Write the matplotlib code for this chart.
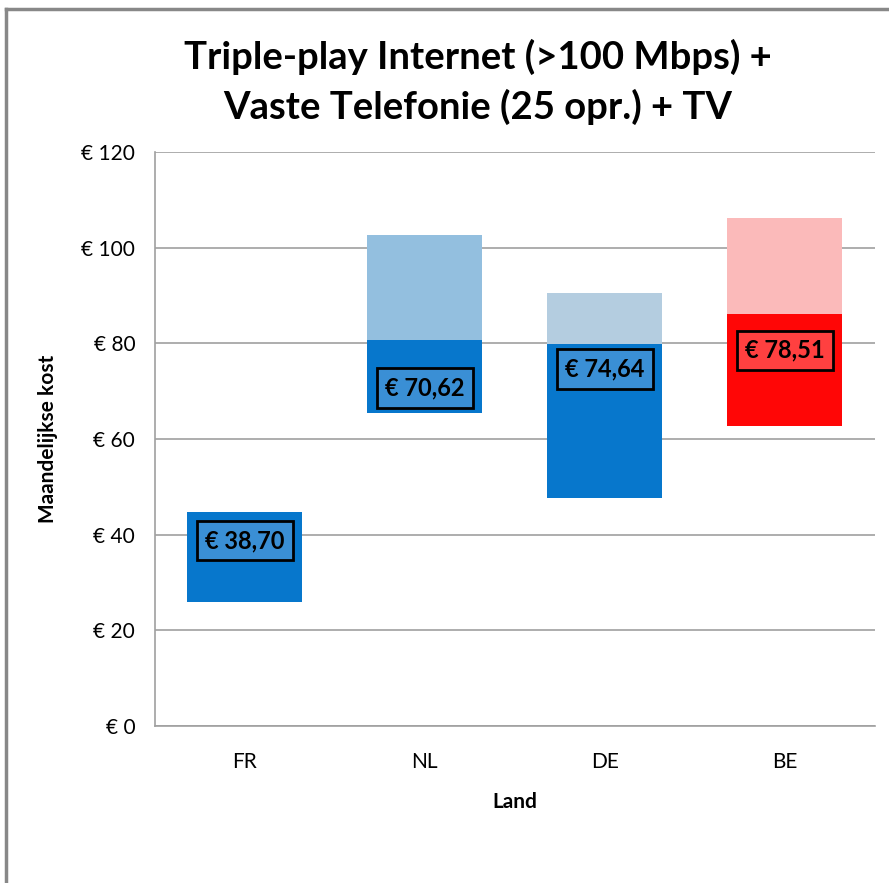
import matplotlib.pyplot as plt
from matplotlib.lines import Line2D

plt.rcParams['font.family'] = ['Lato', 'DejaVu Sans']

# data
landen = ["FR", "NL", "DE", "BE"]
laag = [25.8, 65.5, 47.6, 62.6]      # bottom of the dark bar
midden = [44.8, 80.6, 79.9, 86.1]    # top of the dark bar
hoog = [44.8, 102.6, 90.5, 106.1]    # top of the light bar
gemiddeld = [38.70, 70.62, 74.64, 78.51]

donker = ["#0777CC", "#0777CC", "#0777CC", "#FF0606"]
licht = ["#93BFDF", "#93BFDF", "#B4CDE0", "#FBBABA"]
boxkleur = ["#3A8FD5", "#3A8FD5", "#3A8FD5", "#FF4040"]

fig = plt.figure(figsize=(8.89, 8.83), dpi=100)
ax = fig.add_axes([0.174, 0.178, 0.81, 0.65])

x = range(len(landen))
onder_hoogte = [m - l for m, l in zip(midden, laag)]
boven_hoogte = [h - m for h, m in zip(hoog, midden)]
ax.bar(x, onder_hoogte, bottom=laag, width=0.64, color=donker, zorder=2)
ax.bar(x, boven_hoogte, bottom=midden, width=0.64, color=licht, zorder=2)

for i, v in enumerate(gemiddeld):
    ax.text(i, v, "€ " + f"{v:.2f}".replace(".", ","), ha="center", va="center",
            fontsize=17, fontweight="bold", zorder=3,
            bbox=dict(boxstyle="square,pad=0.35", fc=boxkleur[i], ec="black", lw=2))

ax.set_xlim(-0.5, 3.5)
ax.set_ylim(0, 120)
ax.set_yticks(range(0, 121, 20))
ax.set_yticklabels(["€ %d" % t for t in range(0, 121, 20)], fontsize=15)
ax.set_xticks(list(x))
ax.set_xticklabels(landen, fontsize=15)
ax.tick_params(length=0, pad=14)
ax.tick_params(axis="x", pad=19)
ax.grid(axis="y", color="#A0A0A0", lw=1.2, zorder=1)
for s in ["top", "right"]:
    ax.spines[s].set_visible(False)
for s in ["left", "bottom"]:
    ax.spines[s].set_color("#A0A0A0")
    ax.spines[s].set_linewidth(1.2)

ax.set_xlabel("Land", fontsize=15, fontweight="bold", labelpad=14)
ax.set_ylabel("Maandelijkse kost", fontsize=15, fontweight="bold", labelpad=17)

fig.text(0.537, 0.907, "Triple-play Internet (>100 Mbps) +\nVaste Telefonie (25 opr.) + TV",
         ha="center", va="center", fontsize=27.5, fontweight="bold", linespacing=1.45)

# grey frame (only top and left visible)
fig.add_artist(Line2D([0.007, 0.007], [0, 0.99], color="#888888", lw=2.5))
fig.add_artist(Line2D([0.007, 1], [0.99, 0.99], color="#888888", lw=2.5))

fig.savefig("out.png", dpi=100)
